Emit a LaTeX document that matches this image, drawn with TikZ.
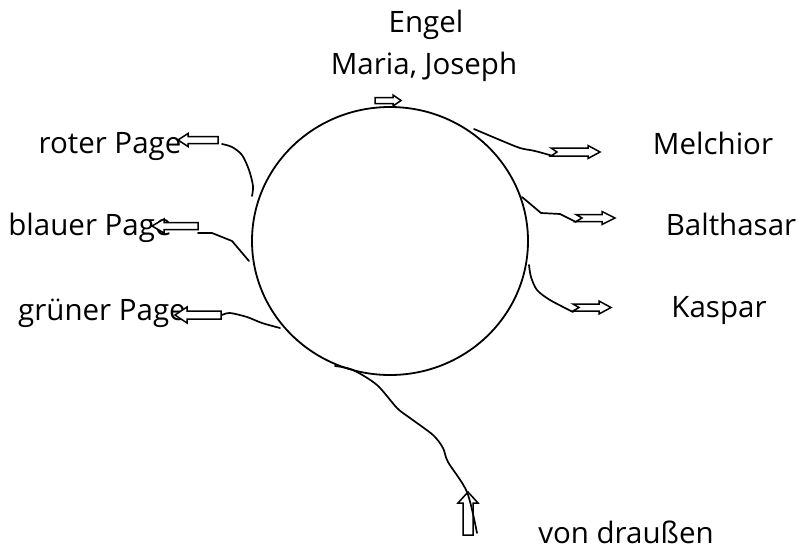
\documentclass[tikz,border=0pt]{standalone}
\usepackage{fontspec}
\setmainfont{Open Sans}
\usetikzlibrary{shapes.geometric}

% block arrow: #1 name of tail point, #2 tail position, #3 direction,
% #4 length, #5 shaft half width, #6 head half width, #7 head length, #8 tail notch
\newcommand\blockarrow[8]{%
  \begin{scope}[shift={#2}, rotate=#3]
    \draw[arrowbox] (#8,0) -- (0,#5) -- ({#4-#7},#5) -- ({#4-#7},#6) -- (#4,0)
      -- ({#4-#7},-#6) -- ({#4-#7},-#5) -- (0,-#5) -- cycle;
    \coordinate (#1) at (0,0);
  \end{scope}}

\tikzset{
  arrowbox/.style={draw=black, fill=white, line width=1.5pt, line join=miter},
  wire/.style={draw=black, line width=1.7pt, line cap=round},
  lbl/.style={anchor=base, inner sep=0pt, font=\fontsize{29.5}{35}\selectfont},
}

\begin{document}
\begin{tikzpicture}[x=1pt, y=-1pt]
  \useasboundingbox (0,0) rectangle (798,549);

  % the crib circle
  \node[draw, line width=1.8pt, ellipse, inner sep=0pt,
        minimum width=276pt, minimum height=268pt] (crib) at (390,241) {};

  % labels
  \node[lbl] (engel)   at (426,32)  {Engel};
  \node[lbl] (maria)   at (424,74)  {Maria, Joseph};
  \node[lbl] (melch)   at (713,154) {Melchior};
  \node[lbl] (balth)   at (731,235) {Balthasar};
  \node[lbl] (kaspar)  at (719,317) {Kaspar};
  \node[lbl] (rot)     at (110,153) {roter Page};
  \node[lbl] (blau)    at (90,235)  {blauer Page};
  \node[lbl] (gruen)   at (102,320) {grüner Page};
  \node[lbl] (draussen) at (626,543) {von draußen};

  % arrows
  \blockarrow{atop}{(375,100.5)}{0}{26}{3}{5.5}{8}{0}
  \blockarrow{arot}{(218,140)}{180}{40}{3.5}{6.5}{10}{0}
  \blockarrow{ablau}{(198,226)}{180}{46}{3.5}{7}{12}{0}
  \blockarrow{agruen}{(221,315)}{180}{46}{4}{8}{12}{0}
  \blockarrow{amelch}{(551,152)}{0}{49}{4}{6.5}{12}{6}
  \blockarrow{abalth}{(576,218)}{0}{39}{3.5}{6.5}{13}{6}
  \blockarrow{akasp}{(573,307.5)}{0}{38}{3.5}{6.5}{12}{6}
  \blockarrow{adraus}{(468,535)}{90}{43}{5}{10}{11}{0}

  % paths of the figures
  \draw[wire] plot[smooth] coordinates {(222,144) (232,147) (242,155) (249,170) (253,186) (252,196)};
  \draw[wire] (198,233) -- (212,233) -- (232,241) -- (249,261);
  \draw[wire] plot[smooth] coordinates {(222,315) (230,313) (247,317) (262,323) (280,328)};
  \draw[wire] plot[smooth] coordinates {(474,129) (500,140) (520,148) (535,151) (553,156)};
  \draw[wire] (522,197) -- (541,213) -- (560,214) -- (576,222);
  \draw[wire] plot[smooth] coordinates {(529,265) (531,277) (537,290) (550,300) (573,312)};
  \draw[wire] plot[smooth] coordinates {(335,366) (353,370) (377,385) (397,408) (410,418)
     (433,435) (443,448) (448,462) (467,492) (477,533)};
\end{tikzpicture}
\end{document}
